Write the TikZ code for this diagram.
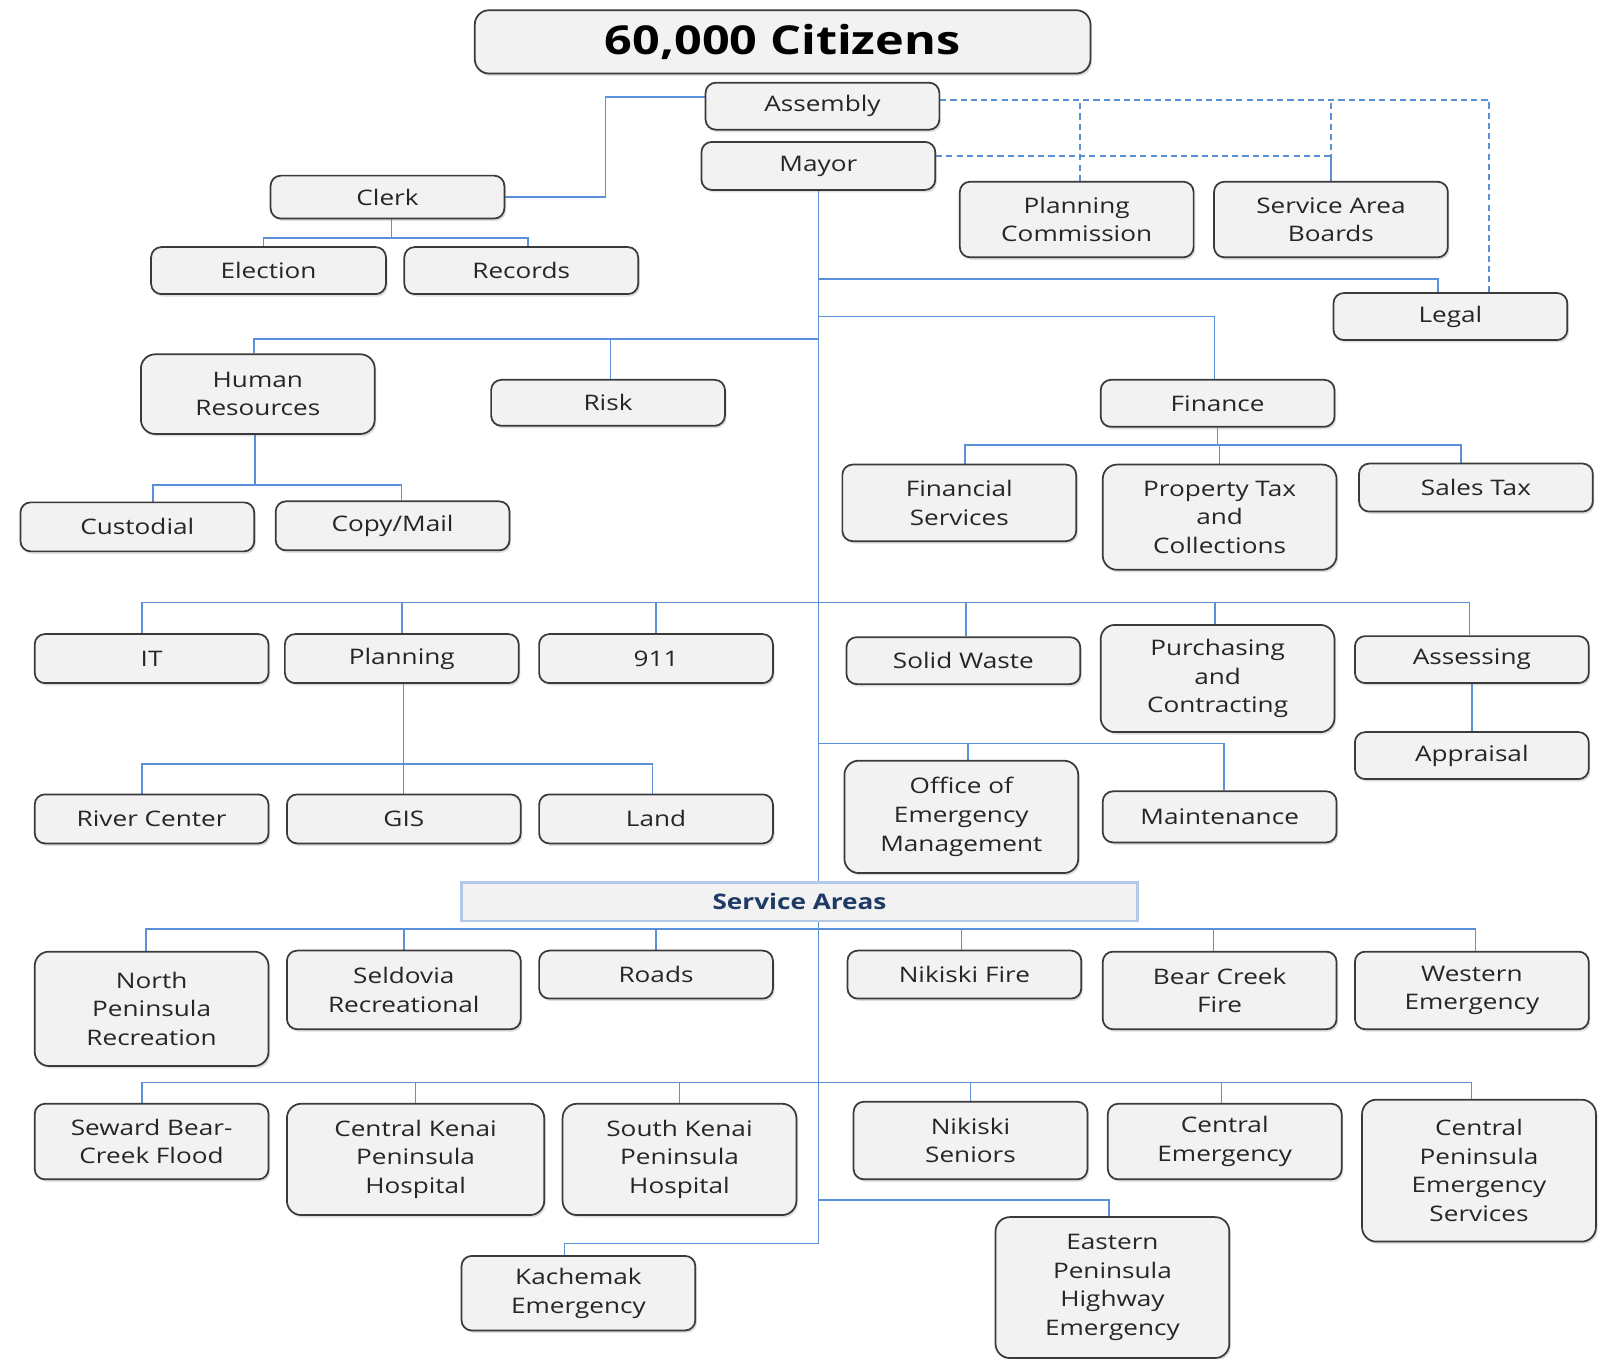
\documentclass[tikz,border=0pt]{standalone}
\usepackage{fontspec}
\setmainfont{Open Sans}[FakeStretch=1.22]
\usetikzlibrary{shadows,calc}
\definecolor{connc}{HTML}{5B8FD6}
\definecolor{boxfill}{HTML}{F2F2F2}
\definecolor{boxline}{HTML}{3A3A3A}
\definecolor{saline}{HTML}{B4C8E8}
\definecolor{satext}{HTML}{1F3A64}
\pgfdeclarelayer{background}
\pgfsetlayers{background,main}
\tikzset{
 orgbox/.style={draw=boxline, fill=boxfill, line width=0.85pt, rounded corners=5pt, inner sep=0pt, align=center,
   font=\fontsize{10.5}{14}\selectfont, text=black!85,
   drop shadow={opacity=0.25, shadow xshift=0.8pt, shadow yshift=-1.2pt}},
 bigbox/.style={orgbox, rounded corners=7pt},
 sabox/.style={draw=saline, fill=boxfill, line width=1.4pt, inner sep=0pt,
   font=\fontsize{10.5}{14}\selectfont\bfseries, text=satext},
 link/.style={draw=connc, line width=0.75pt},
 dlink/.style={link, dash pattern=on 3pt off 2pt},
}
\newcommand\orgnode[7][orgbox]{%
  \node[#1, minimum width={(#5-#3)*0.5pt}, minimum height={(#6-#4)*0.5pt}]
    (#2) at ({(#3+#5)/2},{(#4+#6)/2}) {#7};}
\begin{document}
\begin{tikzpicture}[x=0.5pt,y=-0.5pt]
\useasboundingbox (0,0) rectangle (1568,1330);

% ---------- nodes ----------
\orgnode[bigbox, font=\fontsize{19.5}{22}\selectfont\bfseries, text=black]{title}{465}{10}{1068}{72}{60,000 Citizens}
\orgnode{assembly}{691}{81}{920}{127}{Assembly}
\orgnode{mayor}{687}{139}{916}{186}{Mayor}
\orgnode{clerk}{265}{172}{494}{214}{Clerk}
\orgnode{election}{148}{242}{378}{288}{Election}
\orgnode{records}{396}{242}{625}{288}{Records}
\orgnode{pc}{940}{178}{1169}{252}{Planning\\Commission}
\orgnode{sab}{1189}{178}{1418}{252}{Service Area\\Boards}
\orgnode{legal}{1306}{287}{1535}{333}{Legal}
\orgnode[bigbox]{hr}{138}{347}{367}{425}{Human\\Resources}
\orgnode{risk}{481}{372}{710}{417}{Risk}
\orgnode{finance}{1078}{372}{1307}{418}{Finance}
\orgnode{finsvc}{825}{455}{1054}{530}{Financial\\Services}
\orgnode[bigbox]{ptax}{1080}{455}{1309}{558}{Property Tax\\and\\Collections}
\orgnode{salestax}{1331}{454}{1560}{501}{Sales Tax}
\orgnode{custodial}{20}{492}{249}{540}{Custodial}
\orgnode{copymail}{270}{491}{499}{539}{Copy/Mail}
\orgnode{it}{34}{621}{263}{669}{IT}
\orgnode{planning}{279}{621}{508}{669}{Planning}
\orgnode{n911}{528}{621}{757}{669}{911}
\orgnode{solid}{829}{624}{1058}{670}{Solid Waste}
\orgnode[bigbox]{purch}{1078}{612}{1307}{717}{Purchasing\\and\\Contracting}
\orgnode{assess}{1327}{623}{1556}{669}{Assessing}
\orgnode{apprais}{1327}{717}{1556}{763}{Appraisal}
\orgnode{river}{34}{778}{263}{826}{River Center}
\orgnode{gis}{281}{778}{510}{826}{GIS}
\orgnode{land}{528}{778}{757}{826}{Land}
\orgnode[bigbox]{oem}{827}{745}{1056}{855}{Office of\\Emergency\\Management}
\orgnode{maint}{1080}{775}{1309}{825}{Maintenance}

\orgnode[sabox]{sa}{452}{864}{1114}{902}{Service Areas}

\orgnode[bigbox]{npr}{34}{932}{263}{1044}{North\\Peninsula\\Recreation}
\orgnode{seld}{281}{931}{510}{1008}{Seldovia\\Recreational}
\orgnode{roads}{528}{931}{757}{978}{Roads}
\orgnode{nfire}{830}{931}{1059}{978}{Nikiski Fire}
\orgnode{bcf}{1080}{932}{1309}{1008}{Bear Creek\\Fire}
\orgnode{western}{1327}{932}{1556}{1008}{Western\\Emergency}

\orgnode{seward}{34}{1081}{263}{1155}{Seward Bear-\\Creek Flood}
\orgnode[bigbox]{ckph}{281}{1081}{533}{1190}{Central Kenai\\Peninsula\\Hospital}
\orgnode[bigbox]{skph}{551}{1081}{780}{1190}{South Kenai\\Peninsula\\Hospital}
\orgnode{nsen}{836}{1079}{1065}{1155}{Nikiski\\Seniors}
\orgnode{cemerg}{1085}{1081}{1314}{1155}{Central\\Emergency}
\orgnode[bigbox]{cpes}{1334}{1077}{1563}{1216}{Central\\Peninsula\\Emergency\\Services}
\orgnode{kach}{452}{1230}{681}{1303}{Kachemak\\Emergency}
\orgnode[bigbox]{eastern}{975}{1192}{1204}{1330}{Eastern\\Peninsula\\Highway\\Emergency}

% ---------- connectors ----------
\begin{pgfonlayer}{background}
% Assembly - Clerk
\draw[link] ([yshift=4.5pt]assembly.west) -- ++(-97,0) |- (clerk.east);
% dashed advisory lines
\coordinate (dtop) at ([yshift=3pt]assembly.east);
\coordinate (dmid) at ([yshift=4.75pt]mayor.east);
\draw[dlink] (dtop) -| ([xshift=19pt]legal.north);
\draw[dlink] (dmid) -| (sab.north);
\draw[dlink] ([xshift=1.5pt]pc.north) -- ([xshift=1.5pt]pc.north |- dtop);
\draw[dlink] (sab.north) -- (sab.north |- dtop);
% Clerk children
\draw[link] ([xshift=2pt]clerk.south) -- ++(0,18) coordinate (c1);
\draw[link] ([xshift=-2.5pt]election.north) |- (c1) -| ([xshift=3.25pt]records.north);
% main trunk
\coordinate (tend) at (mayor.south |- 0,1218);
\draw[link] (mayor.south) -- (tend) -| ([xshift=-6.75pt]kach.north);
\draw[link] (mayor.south |- 0,273) -| ([xshift=-6pt]legal.north);
\draw[link] (mayor.south |- 0,310) -| ([xshift=-1.5pt]finance.north);
\draw[link] (mayor.south |- 0,332) -| ([xshift=-1.75pt]hr.north);
\draw[link] ([xshift=1.25pt]risk.north) -- ([xshift=1.25pt]risk.north |- 0,332);
% Finance children
\draw[link] (finance.south) -- ++(0,17) coordinate (f1);
\draw[link] ([xshift=2.75pt]finsvc.north) |- (f1) -| ([xshift=-7.25pt]salestax.north);
\draw[link] (ptax.north) -- (ptax.north |- f1);
% HR children
\draw[link] ([xshift=-1.25pt]hr.south) -- ++(0,49) coordinate (h1);
\draw[link] ([xshift=7.75pt]custodial.north) |- (h1) -| ([xshift=4.25pt]copymail.north);
% row of departments
\coordinate (r1a) at ([xshift=-4.75pt]it.north);
\coordinate (r1b) at ([xshift=-1.25pt]assess.north);
\draw[link] (r1a) -- (r1a |- 0,590) -- (r1b |- 0,590) -- (r1b);
\draw[link] (planning.north) -- (planning.north |- 0,590);
\draw[link] (n911.north) -- (n911.north |- 0,590);
\draw[link] ([xshift=1.25pt]solid.north) -- ([xshift=1.25pt]solid.north |- 0,590);
\draw[link] ([xshift=-1.25pt]purch.north) -- ([xshift=-1.25pt]purch.north |- 0,590);
% Planning children
\draw[link] ([xshift=0.75pt]planning.south) -- ([xshift=0.75pt]planning.south |- gis.north);
\coordinate (r2a) at ([xshift=-4.75pt]river.north);
\coordinate (r2b) at ([xshift=-1.75pt]land.north);
\draw[link] (r2a) -- (r2a |- 0,748) -- (r2b |- 0,748) -- (r2b);
% Assessing - Appraisal
\draw[link] (assess.south) -- (apprais.north);
% OEM / Maintenance
\draw[link] (mayor.south |- 0,728) -| ([xshift=2.25pt]maint.north);
\draw[link] ([xshift=3.25pt]oem.north) -- ([xshift=3.25pt]oem.north |- 0,728);
% service areas row 1
\coordinate (r3a) at ([xshift=-2.75pt]npr.north);
\coordinate (r3b) at ([xshift=1.75pt]western.north);
\draw[link] (r3a) -- (r3a |- 0,910) -- (r3b |- 0,910) -- (r3b);
\draw[link] (seld.north) -- (seld.north |- 0,910);
\draw[link] (roads.north) -- (roads.north |- 0,910);
\draw[link] ([xshift=-1.5pt]nfire.north) -- ([xshift=-1.5pt]nfire.north |- 0,910);
\draw[link] ([xshift=-3pt]bcf.north) -- ([xshift=-3pt]bcf.north |- 0,910);
% service areas row 2
\coordinate (r4a) at ([xshift=-4.75pt]seward.north);
\coordinate (r4b) at ([xshift=-3.75pt]cpes.north);
\draw[link] (r4a) -- (r4a |- 0,1060) -- (r4b |- 0,1060) -- (r4b);
\draw[link] (ckph.north) -- (ckph.north |- 0,1060);
\draw[link] (skph.north) -- (skph.north |- 0,1060);
\draw[link] (nsen.north) -- (nsen.north |- 0,1060);
\draw[link] ([xshift=-1.5pt]cemerg.north) -- ([xshift=-1.5pt]cemerg.north |- 0,1060);
% Eastern
\draw[link] (mayor.south |- 0,1175) -| ([xshift=-1.75pt]eastern.north);
\end{pgfonlayer}

\end{tikzpicture}
\end{document}
